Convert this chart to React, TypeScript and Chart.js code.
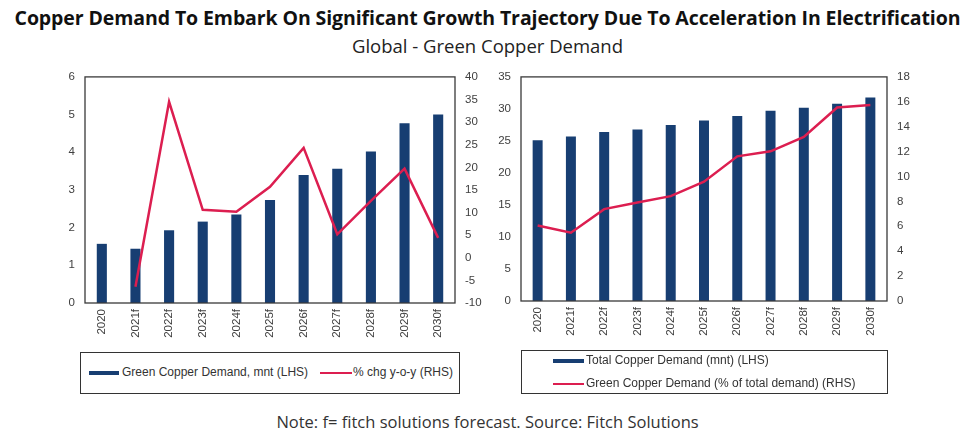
import React, { useEffect, useRef } from 'react';
import { Chart, registerables } from 'chart.js';
Chart.register(...registerables);

const categories = ['2020', '2021f', '2022f', '2023f', '2024f', '2025f', '2026f', '2027f', '2028f', '2029f', '2030f'];
const greenDemand = [1.57, 1.44, 1.93, 2.16, 2.35, 2.73, 3.4, 3.56, 4.02, 4.77, 5.0];
const greenYoY = [null, -6.4, 34.5, 10.6, 10.2, 15.7, 24.3, 5.2, 12.6, 19.7, 4.4];
const totalDemand = [25.1, 25.7, 26.4, 26.8, 27.5, 28.2, 28.9, 29.7, 30.2, 30.8, 31.8];
const greenShare = [6.06, 5.48, 7.38, 7.91, 8.42, 9.58, 11.62, 12.02, 13.18, 15.54, 15.75];

const NAVY = '#173e72';
const RED = '#dc1e50';
const TICK = '#404040';
const TICK_FONT = { family: 'Liberation Sans, Arial, sans-serif', size: 11.5 };

const boxPlugin = {
  id: 'plotBox',
  afterDraw(chart: any) {
    const { ctx, chartArea } = chart;
    const { left, top, right, bottom } = chartArea;
    ctx.save();
    ctx.strokeStyle = '#3a3a3a';
    ctx.lineWidth = 1.3;
    ctx.strokeRect(left, top, right - left, bottom - top);
    ctx.restore();
  },
};

function makeConfig(opts: any) {
  return {
    type: 'bar',
    data: {
      labels: categories,
      datasets: [
        {
          type: 'line',
          label: opts.lineLabel,
          data: opts.lineData,
          yAxisID: 'y1',
          borderColor: RED,
          backgroundColor: RED,
          borderWidth: 2.5,
          pointRadius: 0,
          tension: 0,
          order: 0,
        },
        {
          type: 'bar',
          label: opts.barLabel,
          data: opts.barData,
          yAxisID: 'y',
          backgroundColor: NAVY,
          barPercentage: 0.6,
          categoryPercentage: 0.5,
          order: 1,
        },
      ],
    },
    options: {
      responsive: false,
      animation: false,
      layout: { padding: { top: opts.padTop, left: 0, right: 0, bottom: 0 } },
      plugins: { legend: { display: false }, tooltip: { enabled: false }, title: { display: false } },
      scales: {
        x: {
          grid: { display: false, drawTicks: false },
          border: { display: false },
          ticks: { color: TICK, font: TICK_FONT, minRotation: 90, maxRotation: 90, padding: 6, autoSkip: false },
          afterFit(s: any) { s.height = opts.xHeight; },
        },
        y: {
          position: 'left',
          min: opts.yMin, max: opts.yMax,
          grid: { display: false, drawTicks: false },
          border: { display: false },
          ticks: { color: TICK, font: TICK_FONT, stepSize: opts.yStep, padding: 10 },
          afterFit(s: any) { s.width = opts.leftW; },
        },
        y1: {
          position: 'right',
          min: opts.y1Min, max: opts.y1Max,
          grid: { display: false, drawTicks: false },
          border: { display: false },
          ticks: { color: TICK, font: TICK_FONT, stepSize: opts.y1Step, padding: 10 },
          afterFit(s: any) { s.width = opts.rightW; },
        },
      },
    },
    plugins: [boxPlugin],
  };
}

function ChartCanvas(props: any) {
  const ref = useRef<HTMLCanvasElement>(null);
  useEffect(() => {
    const chart = new Chart(ref.current as any, makeConfig(props.opts) as any);
    return () => chart.destroy();
  }, []);
  return (
    <canvas
      ref={ref}
      width={props.w}
      height={props.h}
      style={{ position: 'absolute', left: props.x, top: props.y, width: props.w, height: props.h }}
    />
  );
}

const legendText: any = {
  fontFamily: 'Liberation Sans, Arial, sans-serif',
  fontSize: 12,
  color: '#333',
  whiteSpace: 'nowrap',
  position: 'absolute',
};

export default function App() {
  return (
    <div style={{ position: 'absolute', left: 0, top: 0, width: 975, height: 442, background: '#fff', overflow: 'hidden' }}>
      <div style={{ position: 'absolute', left: 0, top: 4, width: 975, textAlign: 'center', fontFamily: 'Open Sans', fontWeight: 700, fontSize: 19.5, color: '#111', whiteSpace: 'nowrap', letterSpacing: -0.1 }}>
        Copper Demand To Embark On Significant Growth Trajectory Due To Acceleration In Electrification
      </div>
      <div style={{ position: 'absolute', left: 0, top: 33, width: 975, textAlign: 'center', fontFamily: 'Open Sans', fontSize: 18.5, color: '#222', whiteSpace: 'nowrap' }}>
        Global - Green Copper Demand
      </div>

      <ChartCanvas
        x={40} y={60} w={450} h={285}
        opts={{
          barLabel: 'Green Copper Demand, mnt (LHS)', barData: greenDemand,
          lineLabel: '% chg y-o-y (RHS)', lineData: greenYoY,
          yMin: 0, yMax: 6, yStep: 1, y1Min: -10, y1Max: 40, y1Step: 5,
          leftW: 45, rightW: 35, padTop: 14, xHeight: 42,
        }}
      />
      <ChartCanvas
        x={485} y={60} w={455} h={285}
        opts={{
          barLabel: 'Total Copper Demand (mnt) (LHS)', barData: totalDemand,
          lineLabel: 'Green Copper Demand (% of total demand) (RHS)', lineData: greenShare,
          yMin: 0, yMax: 35, yStep: 5, y1Min: 0, y1Max: 18, y1Step: 2,
          leftW: 36, rightW: 53, padTop: 14, xHeight: 44,
        }}
      />

      <div style={{ position: 'absolute', left: 80, top: 352, width: 380, height: 42, border: '1.5px solid #333', boxSizing: 'border-box' }} />
      <div style={{ position: 'absolute', left: 89, top: 371, width: 30, height: 4, background: NAVY }} />
      <div style={{ ...legendText, left: 122, top: 365 }}>Green Copper Demand, mnt (LHS)</div>
      <div style={{ position: 'absolute', left: 320, top: 372, width: 32, height: 2, background: RED }} />
      <div style={{ ...legendText, left: 353, top: 365 }}>% chg y-o-y (RHS)</div>

      <div style={{ position: 'absolute', left: 521, top: 350, width: 367, height: 44, border: '1.5px solid #333', boxSizing: 'border-box' }} />
      <div style={{ position: 'absolute', left: 553, top: 359, width: 31, height: 4, background: NAVY }} />
      <div style={{ ...legendText, left: 586, top: 353 }}>Total Copper Demand (mnt) (LHS)</div>
      <div style={{ position: 'absolute', left: 553, top: 383, width: 31, height: 2, background: RED }} />
      <div style={{ ...legendText, left: 586, top: 376 }}>Green Copper Demand (% of total demand) (RHS)</div>

      <div style={{ position: 'absolute', left: 0, top: 410, width: 975, textAlign: 'center', fontFamily: 'Open Sans', fontSize: 16.5, color: '#333', whiteSpace: 'nowrap' }}>
        Note: f= fitch solutions forecast. Source: Fitch Solutions
      </div>
    </div>
  );
}
